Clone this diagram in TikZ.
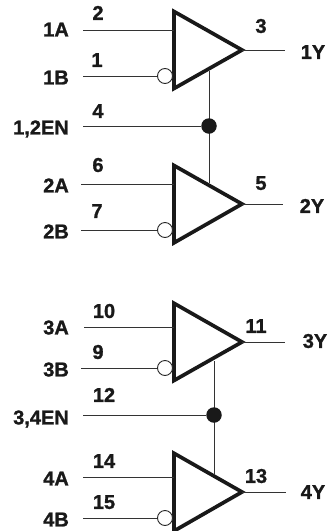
\documentclass[tikz,border=0pt]{standalone}
\usepackage{fontspec}
\setmainfont{Liberation Sans}[BoldFeatures={FakeBold=1.2}]
\tikzset{
  wire/.style={line width=1pt,draw=black!80},
  gate/.style={line width=3.7pt,draw=black!90,line join=miter,miter limit=10,fill=white},
  bubble/.style={circle,draw=black!85,line width=0.9pt,fill=white,minimum size=15pt,inner sep=0pt},
  junction/.style={circle,fill=black!90,minimum size=15.5pt,inner sep=0pt},
  lbl/.style={font=\fontsize{20}{22}\selectfont\bfseries,text=black!90,inner sep=0pt,text height=13.8pt,text depth=0pt},
  lblr/.style={lbl,anchor=east},
}
\newcommand{\buffergate}[5]{% name, top y, bottom y, apex y, bubble y
  \coordinate (#1t) at (174,#2);
  \coordinate (#1b) at (174,#3);
  \coordinate (#1o) at (242,#4);
  \draw[gate] (#1t) -- (#1o) -- (#1b) -- cycle;
  \node[bubble] (#1n) at (165,#5) {};
}
\begin{document}
\begin{tikzpicture}[x=1pt,y=-1pt]
\useasboundingbox (0,0) rectangle (329,531);
% free ends
\coordinate (a1s) at (83,30);  \coordinate (a1e) at (174,30);
\coordinate (b1s) at (83,76);
\coordinate (y1e) at (285,50);
\coordinate (en1s) at (83,126);
\coordinate (a2s) at (81,184); \coordinate (a2e) at (174,184);
\coordinate (b2s) at (81,230);
\coordinate (y2e) at (283,204);
\coordinate (a3s) at (84,327); \coordinate (a3e) at (174,327);
\coordinate (b3s) at (81,368);
\coordinate (y3e) at (285,342);
\coordinate (en2s) at (83,415);
\coordinate (a4s) at (83,477); \coordinate (a4e) at (174,477);
\coordinate (b4s) at (83,518);
\coordinate (y4e) at (286,492);
\coordinate (v1t) at (209,71); \coordinate (v1b) at (209,183);
\coordinate (v2t) at (214,361); \coordinate (v2b) at (214,475);
\buffergate{g1}{11.5}{88.5}{50}{76}
\buffergate{g2}{165.5}{242.8}{204}{230}
\buffergate{g3}{303.3}{380.5}{342}{368}
\buffergate{g4}{453.3}{531}{492}{518}
\draw[wire] (v1t) -- (v1b);
\draw[wire] (v2t) -- (v2b);
\node[junction] (d1) at (209,126) {};
\node[junction] (d2) at (214,415) {};
\draw[wire] (a1s) -- (a1e);
\draw[wire] (b1s) -- (g1n);
\draw[wire] (g1o) -- (y1e);
\draw[wire] (en1s) -- (d1);
\draw[wire] (a2s) -- (a2e);
\draw[wire] (b2s) -- (g2n);
\draw[wire] (g2o) -- (y2e);
\draw[wire] (a3s) -- (a3e);
\draw[wire] (b3s) -- (g3n);
\draw[wire] (g3o) -- (y3e);
\draw[wire] (en2s) -- (d2);
\draw[wire] (a4s) -- (a4e);
\draw[wire] (b4s) -- (g4n);
\draw[wire] (g4o) -- (y4e);
% signal labels
\node[lblr] (l1a) at (69,29.5) {1A};
\node[lblr] (l1b) at (69,77.5) {1B};
\node[lblr] (l12) at (69,127.5) {1,2EN};
\node[lblr] (l2a) at (69,185.5) {2A};
\node[lblr] (l2b) at (69,231.5) {2B};
\node[lblr] (l3a) at (69,327.5) {3A};
\node[lblr] (l3b) at (69,369.5) {3B};
\node[lblr] (l34) at (69,417.5) {3,4EN};
\node[lblr] (l4a) at (69,478.5) {4A};
\node[lblr] (l4b) at (69,519.5) {4B};
\node[lbl] (l1y) at (313,52) {1Y};
\node[lbl] (l2y) at (312,206) {2Y};
\node[lbl] (l3y) at (315,341) {3Y};
\node[lbl] (l4y) at (313,492) {4Y};
% pin numbers
\node[lbl] (p2) at (98,13) {2};
\node[lbl] (p1) at (97,60) {1};
\node[lbl] (p4) at (98,111) {4};
\node[lbl] (p6) at (98,165) {6};
\node[lbl] (p7) at (97,211) {7};
\node[lbl] (p3) at (261,26) {3};
\node[lbl] (p5) at (261,183) {5};
\node[lbl] (p10) at (104,311) {10};
\node[lbl] (p9) at (98,352) {9};
\node[lbl] (p12) at (104,395) {12};
\node[lbl] (p14) at (104,461) {14};
\node[lbl] (p15) at (104,502) {15};
\node[lbl] (p11) at (256,326) {11};
\node[lbl] (p13) at (256,476) {13};
\end{tikzpicture}
\end{document}
